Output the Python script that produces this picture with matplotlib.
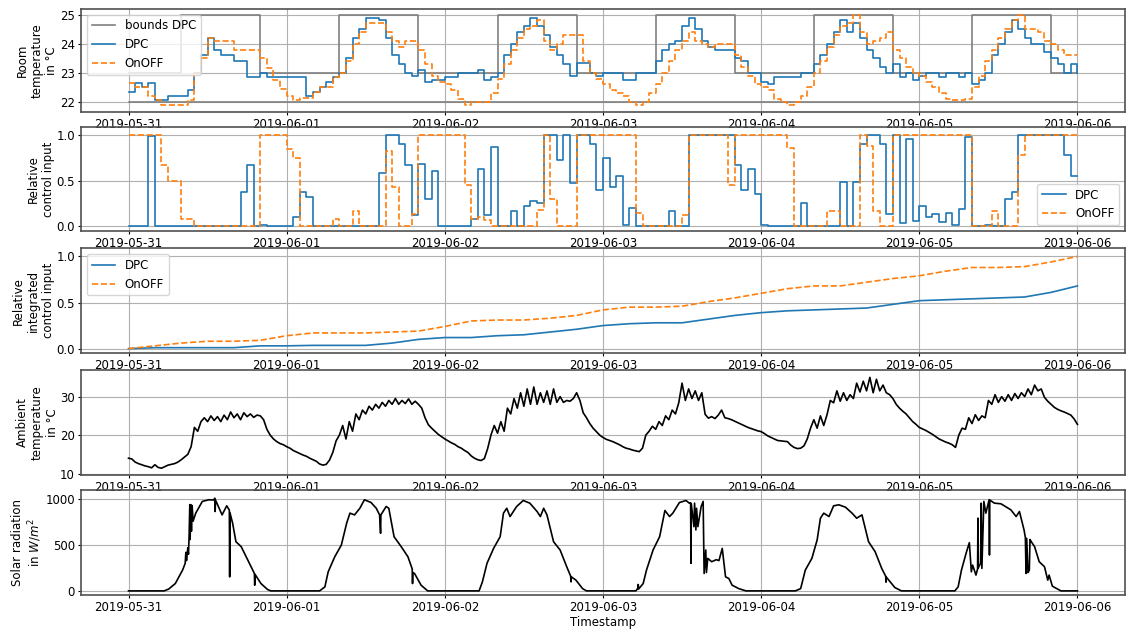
import numpy as np
import pandas as pd
import matplotlib
matplotlib.use('Agg')
import matplotlib.pyplot as plt
import matplotlib.dates as mdates

start = pd.Timestamp('2019-05-31')

# room temperature, hourly (h0 .. h144)
room_dpc = [
    22.35, 22.65, 22.5, 22.65, 22.05, 22.05, 22.2, 22.2, 22.2, 22.4, 23.0, 23.6, 24.2, 23.8, 23.6, 23.6, 23.4, 23.4, 22.85, 22.85, 23.0, 22.85, 22.85, 22.85,
    22.85, 22.85, 22.85, 22.2, 22.35, 22.5, 22.7, 22.85, 23.0, 23.5, 24.2, 24.5, 24.9, 24.9, 24.8, 24.2, 23.6, 23.3, 23.0, 22.9, 23.1, 22.7, 22.75, 22.75,
    22.85, 22.85, 23.0, 23.0, 23.0, 23.1, 22.75, 22.85, 23.0, 23.6, 24.0, 24.4, 24.6, 24.9, 24.6, 24.3, 23.9, 23.6, 23.3, 22.9, 23.35, 23.35, 23.0, 22.9,
    23.0, 23.0, 23.0, 22.75, 22.75, 23.0, 23.0, 23.0, 23.4, 23.8, 24.0, 24.1, 24.6, 24.9, 24.5, 24.1, 23.9, 23.8, 23.8, 23.8, 23.5, 23.4, 23.0, 23.0,
    22.7, 22.6, 22.85, 22.85, 22.85, 22.85, 23.0, 23.0, 23.3, 23.6, 24.0, 24.4, 24.8, 24.4, 24.7, 24.2, 23.8, 23.5, 23.2, 23.0, 23.3, 22.85, 23.0, 22.75,
    22.9, 23.0, 23.0, 22.85, 23.0, 23.0, 22.85, 23.0, 22.6, 22.75, 23.0, 23.6, 24.0, 24.4, 24.8, 24.5, 24.2, 24.0, 24.0, 23.7, 23.5, 23.3, 23.0, 23.3,
    23.0]
room_onoff = [
    22.65, 22.5, 22.5, 22.2, 22.05, 21.9, 21.9, 21.9, 21.9, 22.05, 23.0, 23.5, 24.2, 24.1, 24.1, 24.1, 23.8, 23.8, 23.8, 23.8, 23.5, 23.15, 22.75, 22.45,
    22.2, 22.05, 22.15, 22.15, 22.35, 22.5, 22.5, 22.85, 23.0, 23.4, 24.0, 24.4, 24.7, 24.7, 24.7, 24.4, 24.1, 23.9, 24.1, 24.1, 23.8, 23.3, 22.9, 22.7,
    22.6, 22.4, 22.1, 21.9, 22.0, 22.0, 22.0, 22.3, 22.8, 23.3, 23.8, 24.2, 24.5, 24.6, 24.8, 24.1, 23.8, 24.0, 24.3, 24.3, 24.3, 23.4, 23.0, 22.8,
    22.6, 22.4, 22.3, 22.2, 22.0, 21.9, 22.0, 22.3, 22.6, 23.0, 23.4, 23.8, 24.1, 24.4, 24.1, 24.0, 23.9, 24.0, 24.0, 24.0, 23.6, 23.2, 22.9, 22.6,
    22.5, 22.4, 22.1, 22.0, 21.9, 22.0, 22.2, 22.5, 23.0, 23.4, 23.9, 24.3, 24.6, 24.7, 25.0, 24.4, 24.0, 24.1, 24.2, 24.4, 23.8, 23.5, 23.2, 23.0,
    22.9, 22.7, 22.5, 22.3, 22.1, 22.05, 22.05, 22.1, 22.5, 22.9, 23.4, 23.8, 24.2, 24.5, 24.8, 25.0, 24.5, 24.5, 24.4, 24.1, 24.0, 23.8, 23.6, 23.6,
    23.6]

# comfort bounds of the DPC (change points)
bound_hours = [0, 8, 20, 32, 44, 56, 68, 80, 92, 104, 116, 128, 140, 144]
upper_bound = [23, 25, 23, 25, 23, 25, 23, 25, 23, 25, 23, 25, 23, 23]
lower_bound = [22, 22, 22, 22, 22, 22, 22, 22, 22, 22, 22, 22, 22, 22]

# relative control input, hourly (h0 .. h144)
ctrl_dpc = [
    0, 0, 0, 0.98, 0, 0, 0, 0, 0, 0, 0, 0, 0, 0, 0, 0, 0, 0.38, 0.67, 0, 0.02, 0, 0, 0,
    0, 0.1, 0.38, 0.32, 0, 0, 0, 0, 0, 0, 0, 0, 0, 0, 0.58, 1.0, 1.0, 0.9, 0.67, 0.12, 0.68, 0.3, 0.6, 0,
    0, 0, 0, 0, 0.08, 0.62, 0.12, 0.86, 0, 0, 0.17, 0, 0.22, 0.28, 0.26, 1.0, 1.0, 0.72, 1.0, 0.47, 1.0, 1.0, 0.9, 0.4,
    0.75, 0.43, 0.55, 0.02, 0.2, 0, 0, 0, 0, 0, 0.17, 0, 0, 1.0, 1.0, 1.0, 1.0, 1.0, 1.0, 1.0, 0.67, 0.4, 0.62, 0.35,
    0.02, 0, 0, 0, 0, 0, 0.25, 0, 0, 0, 0, 0, 0.48, 0, 0.48, 0.9, 1.0, 1.0, 0.9, 0.14, 1.0, 0.04, 0.95, 0.06,
    0.22, 0.1, 0.14, 0.05, 0.15, 0.02, 0.19, 0.97, 0, 0, 0.02, 0, 0, 0.3, 0.37, 1.0, 1.0, 1.0, 1.0, 1.0, 1.0, 1.0, 0.78, 0.55,
    0.55]
ctrl_onoff = [
    1, 1, 1, 1, 1, 0.67, 0.5, 0.5, 0.08, 0.08, 0, 0, 0, 0, 0, 0, 0, 0, 0, 0, 1, 1, 1, 1,
    0.84, 0.75, 0, 0, 0, 0, 0, 0.08, 0, 0, 0.17, 0, 0, 0, 0, 0.82, 0.43, 0, 0, 0.14, 1, 1, 1, 1,
    1, 1, 1, 0.45, 0.08, 0.1, 0.07, 0, 0, 0, 0, 0, 0, 0, 0.18, 1, 0.3, 0, 0, 0, 1, 1, 1, 1,
    1, 1, 1, 1, 1, 0.15, 0, 0, 0, 0, 0, 0, 0.13, 1, 1, 1, 1, 1, 1, 0.45, 1, 1, 1, 1,
    1, 1, 1, 1, 0.85, 0, 0, 0, 0, 0, 0.17, 0.17, 0, 0, 0, 1, 0.88, 0.17, 0, 0, 1, 1, 1, 1,
    1, 1, 1, 1, 1, 1, 1, 1, 0, 0, 0, 0.17, 0, 0, 0, 0.78, 1, 1, 1, 1, 1, 1, 1, 1,
    1]

# relative integrated control input, every 4 h
integ_hours = [0, 4, 8, 12, 16, 20, 24, 28, 32, 36, 40, 44, 48, 52, 56, 60, 64, 68, 72,
               76, 80, 84, 88, 92, 96, 100, 104, 108, 112, 116, 120, 124, 128, 132, 136, 140, 144]
integ_dpc = [0.0, 0.01, 0.01, 0.01, 0.01, 0.03, 0.03, 0.035, 0.035, 0.035, 0.06, 0.1, 0.12, 0.12, 0.14, 0.15, 0.18, 0.21, 0.25,
             0.27, 0.28, 0.28, 0.32, 0.36, 0.39, 0.41, 0.42, 0.43, 0.44, 0.48, 0.52, 0.53, 0.54, 0.55, 0.56, 0.61, 0.68]
integ_onoff = [0.0, 0.03, 0.06, 0.08, 0.08, 0.09, 0.14, 0.17, 0.17, 0.17, 0.18, 0.19, 0.24, 0.3, 0.31, 0.31, 0.33, 0.36, 0.42,
               0.45, 0.45, 0.46, 0.51, 0.55, 0.6, 0.65, 0.68, 0.68, 0.72, 0.76, 0.79, 0.84, 0.88, 0.88, 0.89, 0.94, 1.0]

# ambient temperature, every 30 min (h0 .. h144)
ambient = [
    14.0, 13.8, 13.0, 12.6, 12.3, 12.0, 11.8, 11.5, 12.3, 11.6, 11.4, 11.8, 12.2, 12.4, 12.6, 13.0, 13.6, 14.3, 15.0, 17.0, 22.0, 21.0, 23.5, 24.5,
    23.5, 25.0, 23.8, 24.8, 23.5, 25.2, 24.0, 26.0, 24.5, 25.5, 24.0, 25.8, 24.8, 25.5, 24.6, 25.2, 25.0, 24.0, 21.5, 20.0, 19.0, 18.3, 17.8, 17.5,
    17.0, 16.6, 16.0, 15.6, 15.2, 14.8, 14.5, 14.0, 13.6, 13.2, 12.5, 12.2, 12.4, 13.5, 15.5, 18.5, 20.0, 22.5, 19.0, 23.5, 21.0, 25.5, 24.0, 26.5,
    25.5, 27.5, 26.5, 28.0, 27.0, 28.5, 27.5, 29.0, 28.0, 29.5, 28.0, 29.0, 28.2, 29.4, 28.0, 28.8, 28.0, 27.0, 24.5, 22.7, 21.8, 21.0, 20.2, 19.6,
    19.0, 18.5, 18.0, 17.6, 17.0, 16.6, 16.0, 15.5, 14.6, 14.0, 13.6, 13.4, 13.9, 16.5, 20.0, 22.5, 20.5, 23.5, 21.0, 27.0, 25.5, 29.5, 27.0, 31.0,
    27.5, 32.0, 28.0, 32.5, 28.0, 31.0, 28.5, 31.5, 28.0, 32.0, 28.5, 30.0, 28.5, 29.0, 28.8, 29.5, 31.0, 29.0, 25.8, 24.5, 23.0, 21.8, 20.9, 20.0,
    19.4, 18.9, 18.6, 18.3, 17.9, 17.5, 17.0, 16.6, 16.4, 16.1, 15.9, 15.7, 16.6, 20.0, 21.0, 22.3, 21.5, 23.5, 22.5, 25.0, 24.0, 26.5, 25.5, 28.4,
    33.5, 29.0, 32.0, 29.5, 31.5, 29.0, 31.0, 25.4, 24.4, 24.8, 24.3, 25.2, 26.5, 24.5, 24.3, 24.0, 23.6, 23.2, 22.8, 22.4, 22.0, 21.7, 21.4, 21.1,
    20.9, 20.4, 19.8, 19.4, 19.0, 18.6, 18.5, 18.4, 18.3, 17.4, 16.8, 16.5, 16.6, 17.2, 19.0, 21.8, 24.0, 21.8, 25.0, 22.5, 25.3, 29.0, 28.4, 31.5,
    28.8, 31.0, 29.0, 30.5, 29.5, 33.5, 31.2, 34.0, 31.5, 35.0, 31.0, 34.5, 31.5, 33.0, 31.0, 30.5, 29.5, 28.0, 27.0, 26.2, 25.5, 24.5, 23.5, 22.8,
    22.0, 21.6, 21.2, 20.7, 20.2, 19.6, 19.0, 18.6, 18.2, 17.9, 17.5, 16.8, 20.0, 21.8, 21.5, 24.5, 23.0, 25.3, 23.8, 25.0, 24.5, 29.0, 28.0, 30.5,
    28.5, 30.0, 28.8, 30.5, 29.0, 30.8, 29.5, 31.0, 30.0, 32.0, 30.5, 33.0, 31.5, 32.0, 29.8, 28.8, 28.0, 27.2, 26.7, 26.3, 26.0, 25.6, 25.2, 24.2,
    22.8]

# solar radiation, irregular sample hours
solar_hours = [
    0, 5.4, 6.1, 7.1, 8.2, 8.6, 8.7, 8.8, 9.0, 9.1, 9.2, 9.3, 9.35, 9.45, 9.55, 9.65, 9.8, 10.2, 11.2, 12.2, 12.9, 13.1, 13.15, 13.2, 14.2, 14.9, 15.3, 15.35, 15.4, 15.8, 16.3, 17.1, 18.1, 19.1, 19.15, 19.2, 20.1, 21.1, 21.6,
    29.0, 29.8, 30.3, 31.3, 32.3, 33.1, 33.6, 34.3, 35.1, 35.8, 36.8, 37.6, 38.1, 38.25, 38.3, 39.1, 39.5, 40.3, 41.4, 42.4, 43.05, 43.1, 43.15, 43.4, 44.4, 45.4,
    53.2, 53.7, 54.4, 55.4, 56.4, 56.9, 57.4, 57.9, 58.9, 59.9, 60.9, 62.0, 62.5, 63.0, 63.5, 64.5, 65.5, 66.5, 67.1, 67.15, 67.2, 67.9, 68.9, 69.5,
    77.0, 77.3, 77.35, 77.4, 78.1, 78.6, 79.6, 80.6, 81.4, 82.1, 82.6, 83.6, 84.6, 85.1, 85.3, 85.35, 85.4, 85.8, 85.9, 86.1, 86.2, 86.4, 86.9, 87.2, 87.35, 87.6, 87.7, 87.9, 88.5, 89.2, 89.6, 90.1, 90.6, 91.1, 91.6, 92.6, 93.7,
    101.2, 102.0, 102.7, 103.7, 104.5, 105.0, 105.5, 106.3, 107.0, 107.8, 108.8, 109.8, 110.5, 111.3, 112.3, 113.3, 114.3, 114.9, 114.95, 115.0, 116.3, 117.3,
    125.4, 125.9, 126.4, 127.1, 127.6, 127.9, 128.1, 128.6, 128.85, 128.9, 128.95, 129.3, 129.4, 129.5, 129.8, 130.1, 130.6, 130.65, 130.7, 131.4, 132.4, 133.9, 134.7, 135.2, 135.9, 136.1, 136.2, 136.3, 136.5, 136.7, 136.8, 137.0, 137.5, 138.2, 139.0, 139.5, 139.7, 140.2, 141.5, 144.0]
solar_values = [
    0, 0, 20, 80, 226, 300, 420, 330, 470, 400, 610, 940, 560, 940, 650, 930, 760, 847, 975, 993, 990, 1010, 865, 990, 828, 927, 880, 153, 850, 737, 536, 482, 336, 190, 62, 180, 80, 15, 0,
    0, 44, 208, 372, 500, 737, 847, 828, 900, 993, 963, 900, 828, 628, 828, 920, 900, 590, 480, 372, 240, 80, 200, 190, 62, 0,
    0, 98, 300, 463, 591, 847, 900, 810, 920, 985, 956, 865, 810, 900, 828, 536, 445, 263, 160, 98, 153, 117, 25, 0,
    0, 30, 70, 20, 80, 226, 445, 591, 876, 810, 847, 963, 985, 956, 960, 300, 950, 700, 956, 664, 900, 700, 920, 975, 190, 445, 200, 354, 318, 340, 330, 463, 153, 135, 62, 25, 0,
    0, 25, 226, 354, 555, 792, 847, 810, 927, 938, 912, 847, 792, 828, 536, 427, 245, 160, 95, 150, 36, 0,
    0, 44, 226, 409, 526, 208, 281, 172, 240, 792, 250, 300, 956, 245, 975, 847, 993, 391, 990, 956, 949, 883, 810, 865, 664, 580, 190, 573, 200, 226, 560, 536, 482, 318, 263, 117, 172, 51, 0, 0]


def to_time(hours):
    return start + pd.to_timedelta(np.asarray(hours, dtype=float), unit='h')


t_hourly = to_time(np.arange(len(room_dpc)))
t_ambient = to_time(np.arange(len(ambient)) * 0.5)

fs = 8.5
plt.rcParams['font.size'] = fs
plt.rcParams['axes.edgecolor'] = '#505050'
plt.rcParams['axes.linewidth'] = 1.2
plt.rcParams['xtick.major.size'] = 2.5
plt.rcParams['ytick.major.size'] = 2.5
plt.rcParams['xtick.major.pad'] = 2.0
plt.rcParams['ytick.major.pad'] = 2.0

fig = plt.figure(figsize=(11.26, 6.33), dpi=100)
rects = [
    [0.072, 0.823, 0.927, 0.163],
    [0.072, 0.635, 0.927, 0.164],
    [0.072, 0.442, 0.927, 0.166],
    [0.072, 0.250, 0.927, 0.166],
    [0.072, 0.060, 0.927, 0.166],
]
axes = [fig.add_axes(r) for r in rects]
lw = 1.2

ax = axes[0]
ax.plot(to_time(bound_hours), upper_bound, color='gray', lw=lw, drawstyle='steps-post', label='bounds DPC')
ax.plot(to_time(bound_hours), lower_bound, color='gray', lw=lw, drawstyle='steps-post')
ax.plot(t_hourly, room_dpc, color='tab:blue', lw=lw, drawstyle='steps-post', label='DPC')
ax.plot(t_hourly, room_onoff, color='tab:orange', lw=lw, ls='--', drawstyle='steps-post', label='OnOFF')
ax.set_ylim(21.65, 25.2)
ax.set_yticks([22, 23, 24, 25])
ax.set_ylabel('Room\ntemperature\nin °C', labelpad=1)
ax.legend(loc='upper left', fontsize=fs)

ax = axes[1]
ax.plot(t_hourly, ctrl_dpc, color='tab:blue', lw=lw, drawstyle='steps-post', label='DPC')
ax.plot(t_hourly, ctrl_onoff, color='tab:orange', lw=lw, ls='--', drawstyle='steps-post', label='OnOFF')
ax.set_ylim(-0.05, 1.08)
ax.set_yticks([0.0, 0.5, 1.0])
ax.set_ylabel('Relative\ncontrol input', labelpad=1)
ax.legend(loc='lower right', fontsize=fs)

ax = axes[2]
ax.plot(to_time(integ_hours), integ_dpc, color='tab:blue', lw=lw, label='DPC')
ax.plot(to_time(integ_hours), integ_onoff, color='tab:orange', lw=lw, ls='--', label='OnOFF')
ax.set_ylim(-0.05, 1.09)
ax.set_yticks([0.0, 0.5, 1.0])
ax.set_ylabel('Relative\nintegrated\ncontrol input', labelpad=1)
ax.legend(loc='upper left', fontsize=fs)

ax = axes[3]
ax.plot(t_ambient, ambient, color='black', lw=lw)
ax.set_ylim(9.7, 37.0)
ax.set_yticks([10, 20, 30])
ax.set_ylabel('Ambient\ntemperature\nin °C', labelpad=1)

ax = axes[4]
ax.plot(to_time(solar_hours), solar_values, color='black', lw=lw)
ax.set_ylim(-45, 1100)
ax.set_yticks([0, 500, 1000])
ax.set_ylabel('Solar radiation\nin $W/m^2$', labelpad=1)
ax.set_xlabel('Timestamp', labelpad=1)

x0 = start - pd.Timedelta(hours=7.2)
x1 = start + pd.Timedelta(hours=151.2)
for ax in axes:
    ax.set_xlim(x0, x1)
    ax.xaxis.set_major_locator(mdates.DayLocator())
    ax.xaxis.set_major_formatter(mdates.DateFormatter('%Y-%m-%d'))
    ax.grid(True, color='#b0b0b0', lw=0.8)
    ax.tick_params(labelsize=fs)
    ax.patch.set_alpha(0)

fig.savefig('out.png', dpi=100)
